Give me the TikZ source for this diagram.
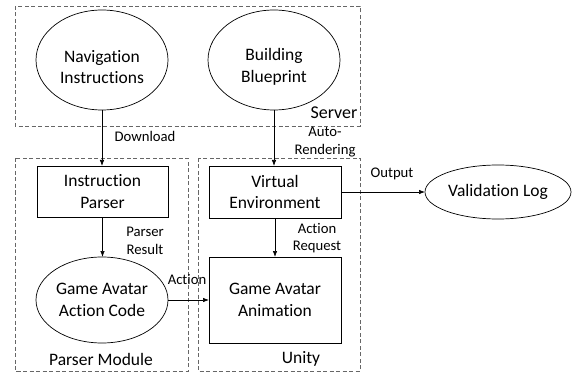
\documentclass[tikz,border=0pt]{standalone}
\usepackage{fontspec}
\setmainfont{Carlito}[Ligatures=NoCommon]
\usetikzlibrary{arrows.meta,shapes.geometric}
\begin{document}
\begin{tikzpicture}[x=1pt,y=-1pt,
  every node/.style={inner sep=0pt, outer sep=0pt},
  mainfont/.style={font=\fontsize{17.5}{21.5}\selectfont, align=center},
  lblfont/.style={font=\fontsize{14.7}{17.5}\selectfont, align=center},
  ell/.style={mainfont, draw, ellipse, line width=0.7pt},
  boxn/.style={mainfont, draw, rectangle, line width=0.7pt},
  grp/.style={draw=black!60, dashed, dash pattern=on 4pt off 2.5pt, line width=0.7pt},
  arr/.style={-{Latex[length=6pt,width=4.5pt]}, line width=0.7pt}]
\useasboundingbox (0,0) rectangle (575,374);
% groups
\draw[grp] (15,6) rectangle (360,126);
\draw[grp] (15,158) rectangle (188,371);
\draw[grp] (198,158) rectangle (360,371);
\node[font=\fontsize{18}{21}\selectfont] (srv) at (334,113) {Server};
\node[mainfont] (pm) at (101,359) {Parser Module};
\node[mainfont] (un) at (301,359) {Unity};
% nodes
\node[ell, minimum width=132, minimum height=100] (nav) at (102,60) {};
\node[mainfont] (navt) at (102,67) {Navigation\\Instructions};
\node[ell, minimum width=132, minimum height=100] (bb) at (274,60) {};
\node[mainfont] (bbt) at (274,67) {Building\\Blueprint};
\node[boxn, minimum width=131, minimum height=51] (ip) at (102.5,191.5) {Instruction\\Parser};
\node[boxn, minimum width=132, minimum height=52] (ve) at (275,192) {Virtual\\Environment};
\node[ell, minimum width=132, minimum height=86] (gaac) at (102,300) {Game Avatar\\Action Code};
\node[boxn, minimum width=132, minimum height=86] (gaa) at (275,300) {Game Avatar\\Animation};
\node[ell, minimum width=146, minimum height=54] (vl) at (498,192) {Validation Log};
% connectors
\draw[arr] (nav.south) -- (nav.south |- ip.north);
\draw[arr] (bb.south) -- (bb.south |- ve.north);
\draw[arr] (ip.south) -- (ip.south |- gaac.north);
\draw[arr] (ve.south) -- (ve.south |- gaa.north);
\draw[arr] (gaac.east) -- (gaac.east -| gaa.west);
\draw[arr] (ve.east) -- (ve.east -| vl.west);
% labels
\node[lblfont] (l1) at (145,136) {Download};
\node[lblfont] (l2) at (325,142) {Auto-\\Rendering};
\node[lblfont] (l3) at (145,241) {Parser\\Result};
\node[lblfont] (l4) at (317,238) {Action\\Request};
\node[lblfont] (l5) at (187,279) {Action};
\node[lblfont] (l6) at (392,174) {Output};
\end{tikzpicture}
\end{document}
